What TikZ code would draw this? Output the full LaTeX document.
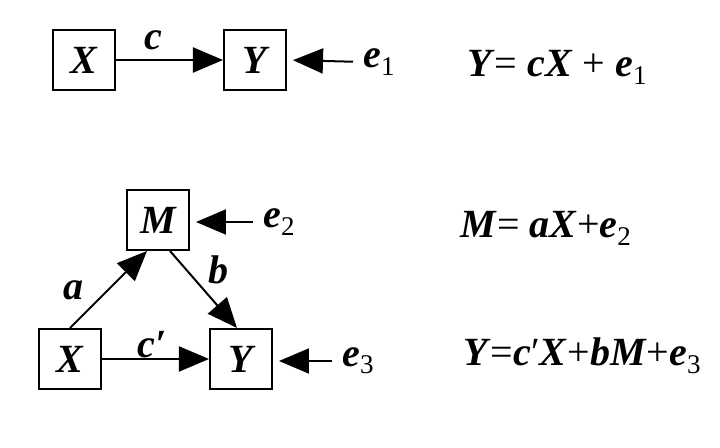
\documentclass[tikz,border=0pt]{standalone}
\usepackage{fontspec}
\setmainfont{Liberation Serif}[ItalicFont={Liberation Serif Italic},BoldFont={Liberation Serif Bold},BoldItalicFont={Liberation Serif Bold Italic}]
\usetikzlibrary{arrows.meta}
\newcommand{\sbs}[1]{\raisebox{-0.4ex}{\fontsize{13.5}{13.5}\selectfont\mdseries\upshape #1}}
\newcommand{\pr}{\char"2032}
\begin{document}
\begin{tikzpicture}[x=0.5pt,y=-0.5pt,
  box/.style={draw, line width=1pt, minimum width=31pt, minimum height=30pt, inner sep=0pt, font=\fontsize{20}{24}\selectfont\bfseries\itshape},
  lbl/.style={inner sep=0pt, font=\fontsize{20}{24}\selectfont\bfseries\itshape},
  elbl/.style={inner sep=0pt, anchor=west, font=\fontsize{20}{24}\selectfont\bfseries\itshape},
  arr/.style={line width=1pt, -{Triangle[length=15pt,width=12.5pt]}},
  earr/.style={arr, shorten >=3pt, shorten <=5pt},
  eq/.style={anchor=base west, inner sep=0pt, font=\fontsize{20}{24}\selectfont}]
\fill[white] (0,0) rectangle (720,448);
\useasboundingbox (0,0) rectangle (720,448);
% top model
\node[box] (X1) at (84,60) {X};
\node[box] (Y1) at (255,60) {Y};
\node[elbl] (e1) at (363,62) {e\sbs{1}};
\draw[arr] (X1.east) -- (Y1.west);
\draw[earr] (e1.west) -- (Y1.east);
\node[lbl] (c1) at (153,40) {c};
% mediation model
\node[box] (M) at (158,220) {M};
\node[box] (X2) at (70,359) {X};
\node[box] (Y2) at (241,359) {Y};
\node[elbl] (e2) at (263,222) {e\sbs{2}};
\node[elbl] (e3) at (342,361) {e\sbs{3}};
\draw[arr] (X2.north) -- ([xshift=-5.5pt]M.south);
\draw[arr] ([xshift=6pt]M.south) -- ([xshift=-2pt]Y2.north);
\draw[arr] (X2.east) -- (Y2.west);
\draw[earr] (e2.west) -- (e2.west -| M.east);
\draw[earr] (e3.west) -- (e3.west -| Y2.east);
\node[lbl] (a) at (73,290) {a};
\node[lbl] (b) at (218,270) {b};
\node[lbl] (cp) at (152,345) {c\pr};
% equations
\node[eq] (eq1) at (467,77) {\textbf{\textit{Y}}= \textbf{\textit{cX}} + \textbf{\textit{e}}\sbs{1}};
\node[eq] (eq2) at (460,238) {\textbf{\textit{M}}= \textbf{\textit{aX}}+\textbf{\textit{e}}\sbs{2}};
\node[eq] (eq3) at (463,366) {\textbf{\textit{Y}}=\textbf{\textit{c}}\pr\textbf{\textit{X}}+\textbf{\textit{bM}}+\textbf{\textit{e}}\sbs{3}};
\end{tikzpicture}
\end{document}
